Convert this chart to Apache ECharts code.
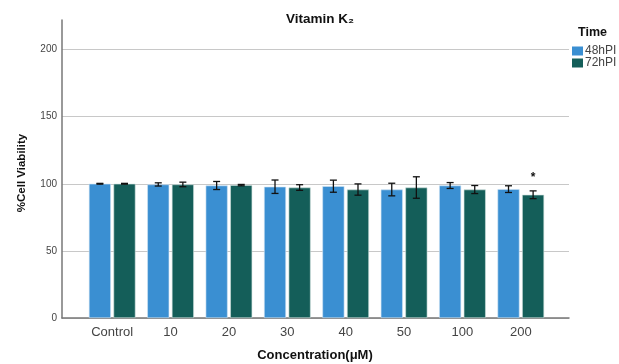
<!DOCTYPE html>
<html><head><meta charset="utf-8">
<script src="https://cdn.jsdelivr.net/npm/echarts@6/dist/echarts.min.js"></script>
<style>html,body{margin:0;padding:0;background:#fff}#c{width:619px;height:364px}</style>
</head><body><div id="c"></div>
<script>
const categories = ['Control','10','20','30','40','50','100','200'];
const seriesNames = ['48hPI','72hPI'];
const mean48 = [100, 99.5, 98.7, 97.8, 98.2, 95.7, 98.7, 96.0];
const err48  = [0.3, 1.2, 3.0, 5.0, 4.5, 4.7, 2.2, 2.5];
const mean72 = [100, 99.5, 99.0, 97.2, 95.7, 97.2, 95.7, 91.8];
const err72  = [0.3, 1.7, 0.5, 2.1, 4.2, 8.0, 3.0, 2.9];
const yTicks = [0, 50, 100, 150, 200];
const sigMarks = [{cat: '200', series: 1, text: '*'}];

const chart = echarts.init(document.getElementById('c'), null, {renderer: 'canvas'});
const TOP = 20, BOTTOM = 46, YMAX = 222;
const BW = 22, GAPPX = 2.6;
const OFF = (BW + GAPPX) / 2;
const FONT = 'Liberation Sans, Arial, sans-serif';

function errSeries(means, errs, dir, name) {
  return {
    type: 'custom', name: name + ' err', xAxisIndex: 1, yAxisIndex: 1, z: 5, silent: true,
    data: means.map((m, i) => [i, m, errs[i]]),
    renderItem: function (params, api) {
      const i = api.value(0), m = api.value(1), e = api.value(2);
      const top = api.coord([i, m + e]);
      const bot = api.coord([i, m - e]);
      const x = top[0] + dir * OFF;
      const w = 3.5;
      const st = {stroke: '#111', lineWidth: 1.3};
      return {type: 'group', children: [
        {type: 'line', shape: {x1: x, y1: top[1], x2: x, y2: bot[1]}, style: st},
        {type: 'line', shape: {x1: x - w, y1: top[1], x2: x + w, y2: top[1]}, style: st},
        {type: 'line', shape: {x1: x - w, y1: bot[1], x2: x + w, y2: bot[1]}, style: st}
      ]};
    }
  };
}

const sigData = sigMarks.map(s => {
  const i = categories.indexOf(s.cat);
  const m = s.series === 0 ? mean48[i] : mean72[i];
  const e = s.series === 0 ? err48[i] : err72[i];
  return [i, m + e, s.series, s.text];
});

chart.setOption({
  animation: false,
  title: {
    text: 'Vitamin K\u2082', left: 315, top: 7, textAlign: 'center',
    textStyle: {fontFamily: FONT, fontSize: 13.5, fontWeight: 'bold', color: '#111'}
  },
  graphic: [
    {type: 'text', left: 578, top: 26, style: {text: 'Time', font: 'bold 12.5px "Liberation Sans", Arial, sans-serif', fill: '#111'}},
    {type: 'text', x: 22, y: 173, rotation: Math.PI / 2,
     style: {text: '%Cell Viability', font: 'bold 11.5px "Liberation Sans", Arial, sans-serif', fill: '#111', align: 'center', verticalAlign: 'middle'}},
    {type: 'text', x: 315, y: 355,
     style: {text: 'Concentration(\u03bcM)', font: 'bold 13px "Liberation Sans", Arial, sans-serif', fill: '#111', align: 'center', verticalAlign: 'middle'}}
  ],
  legend: {
    data: seriesNames, orient: 'vertical', left: 572, top: 45, itemWidth: 11, itemHeight: 9, itemGap: 0,
    padding: 0, icon: 'rect',
    itemStyle: {borderWidth: 0},
    textStyle: {fontFamily: FONT, fontSize: 12, color: '#444', padding: [0, 0, 0, -3]}
  },
  grid: [
    {left: 62, right: 50, top: TOP, bottom: BOTTOM, outerBoundsMode: 'none', containLabel: false},
    {left: 83, right: 69, top: TOP, bottom: BOTTOM, outerBoundsMode: 'none', containLabel: false}
  ],
  xAxis: [
    {gridIndex: 0, type: 'value', min: 0, max: 1, axisLine: {show: true, onZero: false, lineStyle: {color: '#777', width: 1.5}},
     axisTick: {show: false}, axisLabel: {show: false}, splitLine: {show: false}},
    {gridIndex: 1, type: 'category', data: categories, boundaryGap: true,
     axisLine: {show: false}, axisTick: {show: false},
     axisLabel: {fontFamily: FONT, fontSize: 13, color: '#444', margin: 8}}
  ],
  yAxis: [
    {gridIndex: 0, type: 'value', min: 0, max: YMAX, interval: 50,
     axisLine: {show: true, lineStyle: {color: '#777', width: 1.5}}, axisTick: {show: false},
     axisLabel: {fontFamily: FONT, fontSize: 10, color: '#444', margin: 5, showMaxLabel: false,
       formatter: v => yTicks.indexOf(v) >= 0 ? String(v) : ''},
     splitLine: {show: true, showMaxLine: false, lineStyle: {color: '#c8c8c8', width: 1}}},
    {gridIndex: 1, type: 'value', min: 0, max: YMAX, show: false, splitLine: {show: false}}
  ],
  series: [
    {type: 'bar', name: seriesNames[0], xAxisIndex: 1, yAxisIndex: 1, data: mean48, barWidth: BW, barGap: (GAPPX / BW * 100) + '%',
     itemStyle: {color: '#3a8fd2', borderColor: '#cfe3f3', borderWidth: 0.6}},
    {type: 'bar', name: seriesNames[1], xAxisIndex: 1, yAxisIndex: 1, data: mean72, barWidth: BW,
     itemStyle: {color: '#145e59', borderColor: '#cfe0de', borderWidth: 0.6}},
    errSeries(mean48, err48, -1, seriesNames[0]),
    errSeries(mean72, err72, 1, seriesNames[1]),
    {type: 'custom', xAxisIndex: 1, yAxisIndex: 1, z: 6, silent: true, data: sigData,
     renderItem: function (params, api) {
       const p = api.coord([api.value(0), api.value(1)]);
       const dir = api.value(2) === 0 ? -1 : 1;
       return {type: 'text', x: p[0] + dir * OFF, y: p[1] - 7,
         style: {text: sigData[params.dataIndex][3], font: 'bold 12px "Liberation Sans", Arial, sans-serif', fill: '#111', align: 'center', verticalAlign: 'bottom'}};
     }}
  ]
});
</script></body></html>
